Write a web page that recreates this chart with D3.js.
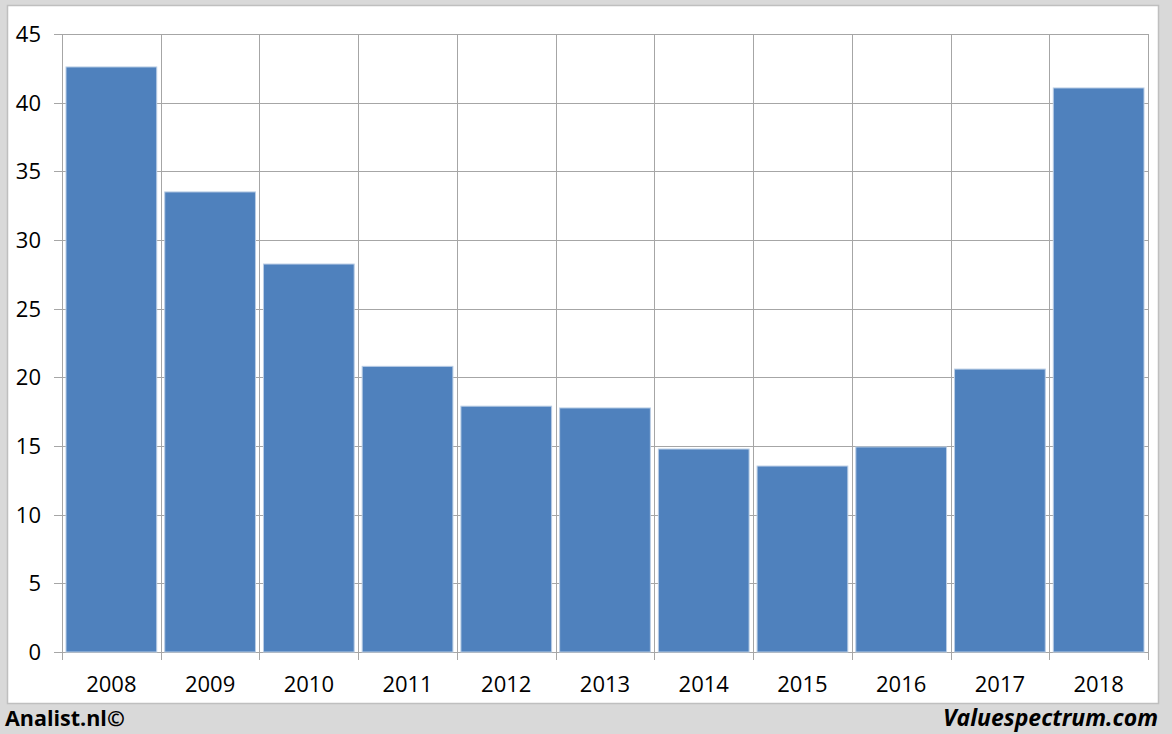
<!DOCTYPE html>
<html><head><meta charset="utf-8">
<script src="https://cdnjs.cloudflare.com/ajax/libs/d3/7.8.5/d3.min.js"></script>
<style>body{margin:0;background:#d9d9d9;}svg{display:block;}</style>
</head><body>
<svg id="c" width="1172" height="734"></svg>
<script>
const years = ["2008","2009","2010","2011","2012","2013","2014","2015","2016","2017","2018"];
const values = [42.6, 33.5, 28.25, 20.8, 17.9, 17.77, 14.78, 13.54, 14.93, 20.6, 41.07];
const yTicks = [0,5,10,15,20,25,30,35,40,45];

const svg = d3.select("#c");
svg.append("rect").attr("x",0).attr("y",0).attr("width",1172).attr("height",734).attr("fill","#d9d9d9");
svg.append("rect").attr("x",7.5).attr("y",5.5).attr("width",1151).attr("height",698)
  .attr("fill","#fff").attr("stroke","#bfbfbf").attr("stroke-width",1.5);

const L=62,R=1148,T=34,B=652;
const xb = d3.scaleBand().domain(years).range([L,R]);
const y = d3.scaleLinear().domain([0,45]).range([B,T]);

const grid = svg.append("g");
grid.selectAll("line.h").data(yTicks).join("line")
  .attr("x1",L-8).attr("x2",R).attr("y1",d=>Math.round(y(d))+0.5).attr("y2",d=>Math.round(y(d))+0.5)
  .attr("stroke","#a6a6a6").attr("stroke-width",1);
const bounds = years.map(d=>xb(d)).concat([R]);
grid.selectAll("line.v").data(bounds).join("line")
  .attr("x1",d=>Math.round(d)+0.5).attr("x2",d=>Math.round(d)+0.5)
  .attr("y1",T).attr("y2",B+8)
  .attr("stroke","#a6a6a6").attr("stroke-width",1);

svg.append("g").selectAll("rect").data(years).join("rect")
  .attr("x",d=>xb(d)+4).attr("width",xb.bandwidth()-8)
  .attr("y",(d,i)=>y(values[i])).attr("height",(d,i)=>B-y(values[i]))
  .attr("fill","#4f81bd").attr("stroke","#b9cde5").attr("stroke-width",1);

const font = "'Open Sans', 'Liberation Sans', sans-serif";
svg.append("g").selectAll("text").data(yTicks).join("text")
  .attr("x",41).attr("y",d=>y(d)+8).attr("text-anchor","end")
  .attr("font-family",font).attr("font-size",22).attr("fill","#000").text(d=>d);
svg.append("g").selectAll("text").data(years).join("text")
  .attr("x",d=>xb(d)+xb.bandwidth()/2).attr("y",692).attr("text-anchor","middle")
  .attr("font-family",font).attr("font-size",22).attr("fill","#000").text(d=>d);

svg.append("text").attr("x",5).attr("y",726).attr("font-family",font).attr("font-size",21.5)
  .attr("font-weight","bold").attr("fill","#000").text("Analist.nl©");
svg.append("text").attr("x",1158).attr("y",726).attr("text-anchor","end").attr("font-family",font).attr("font-size",23)
  .attr("font-weight","bold").attr("font-style","italic").attr("fill","#000").text("Valuespectrum.com");
</script>
</body></html>
